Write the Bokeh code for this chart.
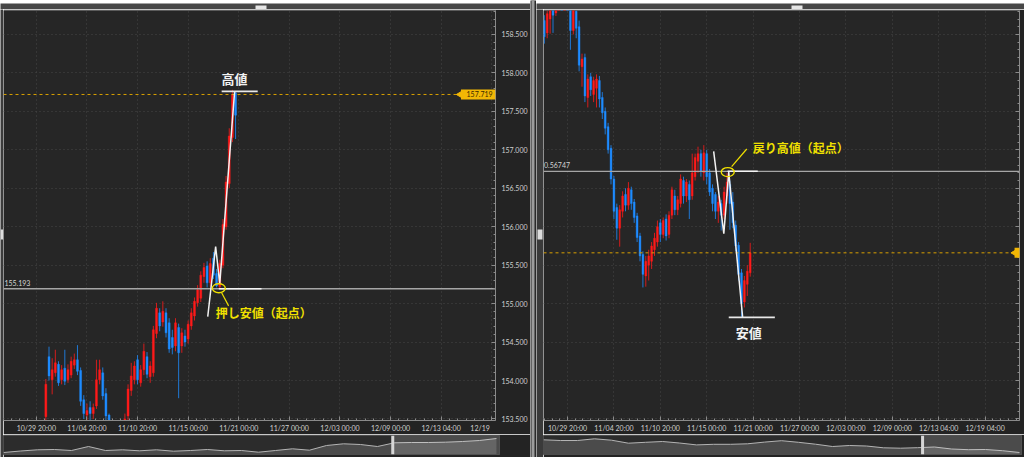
import numpy as np
from bokeh.plotting import figure
from bokeh.layouts import row, column
from bokeh.models import (Range1d, FixedTicker, NumeralTickFormatter, CustomJSTickFormatter,
                          Label, ColumnDataSource, BoxAnnotation, Span, GridBox)
from bokeh.core.properties import value
from bokeh.embed import file_html
from bokeh.resources import INLINE

# ---------------- data ----------------
x_tick_index = [0, 16, 32, 48, 64, 80, 96, 112, 128, 144]
x_tick_labels = ["10/29 20:00", "11/04 20:00", "11/10 20:00", "11/15 00:00", "11/21 00:00",
                 "11/27 00:00", "12/03 00:00", "12/09 00:00", "12/13 04:00", "12/19 04:00"]
y_tick_values = [153.5, 154.0, 154.5, 155.0, 155.5, 156.0, 156.5, 157.0, 157.5, 158.0, 158.5]

left_index = list(range(3, 64))
left_open = [153.53, 154.31, 154.01, 154.10, 154.21, 154.01, 154.16, 154.01, 154.07, 154.20,
             154.27, 154.13, 153.75, 153.55, 153.65, 153.57, 153.67, 154.01, 154.10, 153.83,
             153.55, 153.40, 153.25, 153.33, 153.23, 153.37, 153.54, 153.87, 154.01, 154.27,
             153.97, 154.14, 154.31, 154.05, 154.10, 154.61, 154.88, 154.76, 154.88, 154.75,
             154.56, 154.45, 154.69, 154.45, 154.58, 154.54, 154.71, 154.84, 155.01, 155.07,
             155.35, 155.49, 155.27, 155.59, 155.39, 155.22, 155.50, 156.00, 156.56, 157.16,
             157.74]
left_high = [154.02, 154.44, 154.29, 154.40, 154.25, 154.20, 154.40, 154.21, 154.31, 154.35,
             154.46, 154.17, 153.81, 153.70, 153.73, 153.70, 154.27, 154.27, 154.17, 153.90,
             153.57, 153.43, 153.40, 153.37, 153.45, 153.57, 153.95, 154.23, 154.25, 154.33,
             154.20, 154.48, 154.37, 154.25, 154.71, 155.01, 154.94, 155.03, 154.94, 154.81,
             154.66, 154.81, 154.74, 154.68, 154.66, 154.78, 154.94, 155.08, 155.24, 155.42,
             155.53, 155.55, 155.59, 155.67, 155.45, 155.57, 156.10, 156.66, 157.28, 157.78,
             157.76]
left_low = [153.45, 154.00, 153.82, 154.05, 153.93, 153.95, 153.94, 153.97, 154.03, 154.15,
            154.07, 153.67, 153.50, 153.45, 153.47, 153.50, 153.63, 153.95, 153.75, 153.45,
            153.33, 153.20, 153.17, 153.15, 153.19, 153.33, 153.45, 153.80, 153.95, 153.95,
            153.92, 154.07, 154.03, 153.97, 154.05, 154.55, 154.64, 154.70, 154.56, 154.36,
            154.34, 154.38, 153.77, 154.36, 154.44, 154.48, 154.66, 154.78, 154.96, 155.02,
            155.27, 155.21, 155.22, 155.32, 155.21, 155.193, 155.46, 155.96, 156.50, 157.10,
            157.14]
left_close = [153.95, 154.06, 154.14, 154.23, 153.97, 154.14, 153.99, 154.14, 154.25, 154.27,
              154.12, 153.73, 153.57, 153.61, 153.57, 153.65, 154.01, 154.14, 153.80, 153.54,
              153.40, 153.25, 153.33, 153.23, 153.37, 153.50, 153.89, 154.06, 154.19, 154.01,
              154.14, 154.38, 154.08, 154.19, 154.66, 154.94, 154.71, 154.90, 154.62, 154.41,
              154.43, 154.75, 154.36, 154.62, 154.50, 154.73, 154.88, 155.03, 155.18, 155.37,
              155.47, 155.27, 155.52, 155.37, 155.23, 155.52, 156.03, 156.58, 157.18, 157.72,
              157.45]

right_index = list(range(-8, 64))
right_open = [158.68, 158.52, 158.70, 158.88, 158.78, 158.95, 159.05, 158.95, 159.05, 158.85,
              158.55, 158.80, 158.60, 158.08, 158.20, 157.68, 157.95, 157.72, 157.80, 157.90,
              157.68, 157.50, 157.30, 157.02, 156.62, 156.25, 155.98, 156.20, 156.42, 156.28,
              156.48, 156.32, 156.14, 155.88, 155.64, 155.36, 155.50, 155.55, 155.70, 155.80,
              156.05, 155.90, 156.10, 155.90, 156.15, 156.40, 156.22, 156.30, 156.60, 156.40,
              156.55, 156.40, 156.65, 156.85, 156.95, 156.70, 156.95, 156.70, 156.50, 156.42,
              156.20, 156.30, 156.15, 156.40, 156.55, 156.32, 156.02, 155.76, 155.40, 155.02,
              155.25, 155.40]
right_high = [158.75, 158.81, 159.00, 158.95, 159.05, 159.10, 159.12, 159.15, 159.10, 158.95,
              158.92, 158.86, 158.68, 158.25, 158.25, 157.98, 158.00, 157.95, 157.98, 157.96,
              157.75, 157.55, 157.35, 157.06, 156.66, 156.30, 156.28, 156.46, 156.50, 156.58,
              156.52, 156.36, 156.18, 155.92, 155.68, 155.62, 155.70, 155.80, 155.92, 156.08,
              156.10, 156.12, 156.16, 156.20, 156.52, 156.48, 156.40, 156.68, 156.65, 156.62,
              156.60, 156.95, 156.95, 157.04, 157.00, 157.06, 157.00, 156.75, 156.55, 156.45,
              156.40, 156.35, 156.52, 156.70, 156.60, 156.45, 156.08, 155.80, 155.45, 155.36,
              155.50, 155.79]
right_low = [158.38, 158.45, 158.51, 158.52, 158.74, 158.88, 158.90, 158.90, 158.85, 158.30,
             158.50, 158.45, 158.02, 157.82, 157.62, 157.55, 157.70, 157.62, 157.55, 157.55,
             157.40, 157.20, 156.95, 156.55, 156.10, 155.83, 155.74, 156.12, 156.20, 156.22,
             156.22, 156.05, 155.80, 155.55, 155.21, 155.22, 155.30, 155.45, 155.62, 155.74,
             155.80, 155.85, 155.82, 155.85, 156.10, 156.15, 156.15, 156.25, 156.30, 156.32,
             156.10, 156.35, 156.60, 156.70, 156.65, 156.60, 156.55, 156.40, 156.20, 156.10,
             156.05, 155.95, 156.10, 156.30, 155.96, 155.98, 155.68, 155.30, 154.82, 154.95,
             155.10, 155.35]
right_close = [158.47, 158.77, 158.90, 158.75, 158.95, 159.05, 158.95, 159.08, 158.90, 158.55,
               158.85, 158.58, 158.10, 158.18, 157.70, 157.92, 157.78, 157.90, 157.92, 157.66,
               157.48, 157.28, 157.00, 156.62, 156.20, 155.98, 156.22, 156.40, 156.28, 156.50,
               156.30, 156.12, 155.86, 155.62, 155.38, 155.55, 155.62, 155.75, 155.85, 156.00,
               155.90, 156.08, 155.88, 156.15, 156.48, 156.22, 156.35, 156.62, 156.40, 156.58,
               156.35, 156.70, 156.90, 156.95, 156.72, 156.96, 156.65, 156.45, 156.30, 156.20,
               156.32, 156.15, 156.45, 156.58, 156.30, 156.05, 155.75, 155.38, 155.00, 155.30,
               155.42, 155.66]

# navigator (overview) strip heights
left_overview = [2, 3.5, 4.7, 5, 4, 8, 4, 4.7, 3.7, 4.7, 3.3, 4, 5, 3.7, 4, 2.3, 4, 5.7, 4.3,
                 9, 10.7, 10, 8, 11.7, 12, 12, 12.3, 13, 14, 16]
right_overview = [14.7, 14, 14, 15.7, 14.3, 11.3, 12.2, 13, 11.5, 9.6, 10.2, 10.2, 10.7, 12.4,
                  13.8, 12.2, 10.3, 8, 9, 8.5, 6.7, 6.3, 6.8, 7.5, 5.5, 4.8, 5, 3.8, 2]

# annotation levels
left_push_low = 155.193
left_top_level = 157.76
left_current = 157.719
right_return_high = 156.72
right_bottom_level = 154.82
right_current = 155.66
left_zig_x = [54.2, 56.7, 58.0, 62.7]
left_zig_y = [154.83, 155.74, 155.26, 157.76]
right_zig_x = [50.4, 53.9, 55.6, 60.4]
right_zig_y = [156.98, 155.91, 156.71, 154.82]

# ---------------- style ----------------
Y_LO, Y_HI = 153.48, 158.811
BG = "#262626"
BORDER = "#232323"
AX = "#8a8a8a"
LBL = "#cfcfcf"
GRID = "#474747"
RED = "#ff1a1a"
BLUE = "#1e8cff"
ORANGE = "#d9a000"
TAG = "#f2b705"
YEL = "#f0e000"
WHITE = "#f2f2f2"
FONT = "Lato"
JP = "Noto Sans CJK JP"
FS = "7px"
MAIN_H = 425
BOTTOM = 13


def plain(w, h, xr, yr, bg):
    return figure(width=w, height=h, x_range=Range1d(*xr), y_range=Range1d(*yr),
                  toolbar_location=None, output_backend="svg", x_axis_type=None,
                  y_axis_type=None, min_border=0, background_fill_color=bg,
                  border_fill_color=bg, outline_line_color=None)


def header(w):
    p = plain(w, 9, (0, w), (9, 0), "#474747")
    p.quad(left=[255], right=[266], top=[2], bottom=[7], fill_color="#e6e6e6", line_color=None)
    return p


def strip(w, bg):
    p = plain(w, 448, (0, w), (448, 0), bg)
    p.quad(left=[0 if w < 5 else 1], right=[w if w < 5 else w - 1], top=[220], bottom=[230],
           fill_color="#dcdcdc", line_color=None)
    return p


def style_xaxis(xa, hidden=False):
    xa.axis_label = None
    xa.major_label_text_font = FONT
    xa.major_label_text_font_size = FS
    xa.major_label_standoff = 3
    xa.major_tick_in = 4
    xa.major_tick_out = 0
    xa.minor_tick_in = 2
    xa.minor_tick_out = 0
    if hidden:
        xa.major_label_text_alpha = 0
        xa.axis_line_alpha = 0
        xa.major_tick_line_alpha = 0
        xa.minor_tick_line_alpha = 0
    else:
        xa.major_label_text_color = LBL
        xa.axis_line_color = AX
        xa.major_tick_line_color = AX
        xa.minor_tick_line_color = AX


def main_fig(width, xr, right_border, labels, show_y):
    p = figure(width=width, height=MAIN_H, x_range=Range1d(*xr), y_range=Range1d(Y_LO, Y_HI),
               toolbar_location=None, output_backend="svg", y_axis_location="right",
               background_fill_color=BG, border_fill_color=BORDER, outline_line_color=None,
               min_border_left=0, min_border_right=right_border, min_border_top=1,
               min_border_bottom=BOTTOM)
    xa = p.xaxis[0]
    xa.ticker = FixedTicker(ticks=x_tick_index,
                            minor_ticks=[k * 16 / 6 for k in range(-6, 61)])
    xa.major_label_overrides = {t: s for t, s in zip(x_tick_index, labels)}
    style_xaxis(xa)
    ya = p.yaxis[0]
    ya.axis_label = None
    ya.ticker = FixedTicker(ticks=y_tick_values,
                            minor_ticks=[round(153.4 + 0.1 * k, 1) for k in range(0, 56)])
    if show_y:
        ya.formatter = NumeralTickFormatter(format="0.000")
        ya.major_label_standoff = 6
    else:
        ya.formatter = CustomJSTickFormatter(code="return ''")
        ya.major_label_standoff = 0
    ya.axis_line_color = AX
    ya.major_tick_line_color = AX
    ya.minor_tick_line_color = AX
    ya.major_tick_in = 4
    ya.major_tick_out = 0
    ya.minor_tick_in = 2
    ya.minor_tick_out = 0
    ya.major_label_text_font = FONT
    ya.major_label_text_font_size = FS
    ya.major_label_text_color = LBL
    for g in (p.xgrid, p.ygrid):
        g.grid_line_color = GRID
        g.grid_line_dash = "1 3"
    return p


def overlay(width, y_range):
    o = figure(width=width, height=MAIN_H, x_range=Range1d(0, width), y_range=y_range,
               toolbar_location=None, output_backend="svg", y_axis_type=None,
               background_fill_alpha=0, border_fill_alpha=0, outline_line_color=None,
               min_border_left=0, min_border_right=0, min_border_top=1,
               min_border_bottom=BOTTOM)
    o.grid.visible = False
    xa = o.xaxis[0]
    xa.ticker = FixedTicker(ticks=[100])
    xa.major_label_overrides = {100: x_tick_labels[0]}
    style_xaxis(xa, hidden=True)
    return o


def add_candles(p, idx, o, h, l, c):
    o = np.array(o); h = np.array(h); l = np.array(l); c = np.array(c)
    colors = [RED if cc >= oo else BLUE for oo, cc in zip(o, c)]
    src = ColumnDataSource(dict(x=idx, top=np.maximum(o, c), bottom=np.minimum(o, c),
                                high=h, low=l, color=colors))
    p.segment(x0="x", y0="low", x1="x", y1="high", source=src, line_color="color",
              line_width=1, line_alpha=0.8)
    p.vbar(x="x", width=0.62, top="top", bottom="bottom", source=src, fill_color="color",
           line_color="color", line_width=0.4)


def overview(width, vals, xr_end, right_border, hl):
    n = len(vals)
    p = figure(width=width, height=23, x_range=Range1d(0, xr_end), y_range=Range1d(0, 19),
               toolbar_location=None, output_backend="svg", x_axis_type=None, y_axis_type=None,
               background_fill_color="#2c2c2c", border_fill_color=BORDER,
               outline_line_color="#4c4c4c", min_border_left=0, min_border_right=right_border,
               min_border_top=1, min_border_bottom=3)
    idx = list(range(n))
    p.varea(x=idx, y1=[0] * n, y2=vals, fill_color="#4b4b4b")
    p.line(idx, vals, line_color="#b4b4b4", line_width=1)
    p.add_layout(BoxAnnotation(left=hl, fill_color="#ffffff", fill_alpha=0.15, line_color=None))
    p.add_layout(Span(location=hl, dimension="height", line_color="#d6d6d6", line_width=3))
    return p


# ---------------- left panel ----------------
L_XR = (-10.39, 145.2)
left_labels = x_tick_labels[:-1] + ["12/19" + "\u00a0" * 13]
pL = main_fig(527, L_XR, 33, left_labels, True)
add_candles(pL, left_index, left_open, left_high, left_low, left_close)

pL.line([L_XR[0], L_XR[1]], [left_push_low, left_push_low], line_color="#a6a6a6", line_width=1.3)
pL.line([57.7, 71.2], [left_push_low, left_push_low], line_color="#f4f4f4", line_width=1.6)
pL.line([L_XR[0], L_XR[1]], [left_current, left_current], line_color=ORANGE, line_width=1,
        line_dash="3 3")
pL.line(left_zig_x, left_zig_y, line_color=WHITE, line_width=1.5)
pL.line([58.6, 70.0], [left_top_level, left_top_level], line_color="#e8e8e8", line_width=1.8)
pL.ellipse(x=[57.7], y=[155.2], width=13, height=9, width_units="screen",
           height_units="screen", fill_alpha=0, line_color=YEL, line_width=1.4)
pL.line([58.6, 60.8], [155.14, 154.97], line_color=YEL, line_width=1.2)
pL.add_layout(Label(x=-10.1, y=left_push_low, y_offset=3, text="155.193", text_font=FONT,
                    text_font_size=FS, text_color="#d4d4d4", text_align="left",
                    text_baseline="bottom"))
pL.add_layout(Label(x=62.7, y=157.93, text="高値", text_font=JP, text_font_size="13px",
                    text_font_style="bold", text_color=WHITE, text_align="center",
                    text_baseline="middle"))
pL.add_layout(Label(x=56.7, y=154.88, text="押し安値（起点）", text_font=JP,
                    text_font_size="12px", text_font_style="bold", text_color=YEL,
                    text_align="left", text_baseline="middle"))

# price tag drawn on a transparent overlay that spans the axis column
oL = overlay(527, pL.y_range)
oL.rect(x=[508.5], y=[left_current], width=37, height=10, height_units="screen",
        fill_color=TAG, line_color=None)
oL.scatter(x=[490], y=[left_current], marker="triangle", angle=np.pi / 2, size=8,
           color=TAG)
oL.text(x=[496], y=[left_current], text=["157.719"], text_font=value(FONT),
        text_font_size=FS, text_color="#3a2a00", text_align="left", text_baseline="middle")

ovL = overview(527, left_overview, 29.18, 31, 22.9)

# ---------------- right panel ----------------
R_XR = (-8.28, 155.86)
pR = main_fig(481, R_XR, 5, x_tick_labels, False)
add_candles(pR, right_index, right_open, right_high, right_low, right_close)

pR.line([R_XR[0], R_XR[1]], [right_return_high, right_return_high], line_color="#a6a6a6",
        line_width=1.3)
pR.line([55.2, 65.6], [right_return_high, right_return_high], line_color="#f4f4f4",
        line_width=1.6)
pR.line([R_XR[0], R_XR[1]], [right_current, right_current], line_color=ORANGE, line_width=1,
        line_dash="3 3")
pR.line(right_zig_x, right_zig_y, line_color=WHITE, line_width=1.5)
pR.line([55.6, 71.5], [right_bottom_level, right_bottom_level], line_color="#e8e8e8",
        line_width=1.8)
pR.ellipse(x=[55.25], y=[156.71], width=13, height=9, width_units="screen",
           height_units="screen", fill_alpha=0, line_color=YEL, line_width=1.4)
pR.line([56.6, 61.8], [156.78, 157.01], line_color=YEL, line_width=1.2)
pR.add_layout(Label(x=-8.1, y=right_return_high, y_offset=3, text="0.56747", text_font=FONT,
                    text_font_size=FS, text_color="#d4d4d4", text_align="left",
                    text_baseline="bottom"))
pR.add_layout(Label(x=62.5, y=154.62, text="安値", text_font=JP, text_font_size="13px",
                    text_font_style="bold", text_color=WHITE, text_align="center",
                    text_baseline="middle"))
pR.add_layout(Label(x=63.9, y=157.03, text="戻り高値（起点）", text_font=JP,
                    text_font_size="12px", text_font_style="bold", text_color=YEL,
                    text_align="left", text_baseline="middle"))

oR = overlay(481, pR.y_range)
oR.rect(x=[479], y=[right_current], width=6, height=10, height_units="screen",
        fill_color=TAG, line_color=None)
oR.scatter(x=[477], y=[right_current], marker="triangle", angle=np.pi / 2, size=8,
           color=TAG)

ovR = overview(481, right_overview, 28.12, 3, 22.3)

# ---------------- separator ----------------
sep = plain(6, 457, (0, 6), (0, 457), "#2a2a2a")
sep.quad(left=[1], right=[4], top=[457], bottom=[0], fill_color="#9c9c9c", line_color=None)

left_main = GridBox(children=[(pL, 0, 0), (oL, 0, 0)])
right_main = GridBox(children=[(pR, 0, 0), (oR, 0, 0)])
left_col = column(header(530), row(strip(3, "#3c3c3c"), column(left_main, ovL)))
right_col = column(header(488), row(strip(7, "#3a3a3a"), column(right_main, ovR)))
layout = row(left_col, sep, right_col)

open("out.html", "w").write(file_html(layout, INLINE))
